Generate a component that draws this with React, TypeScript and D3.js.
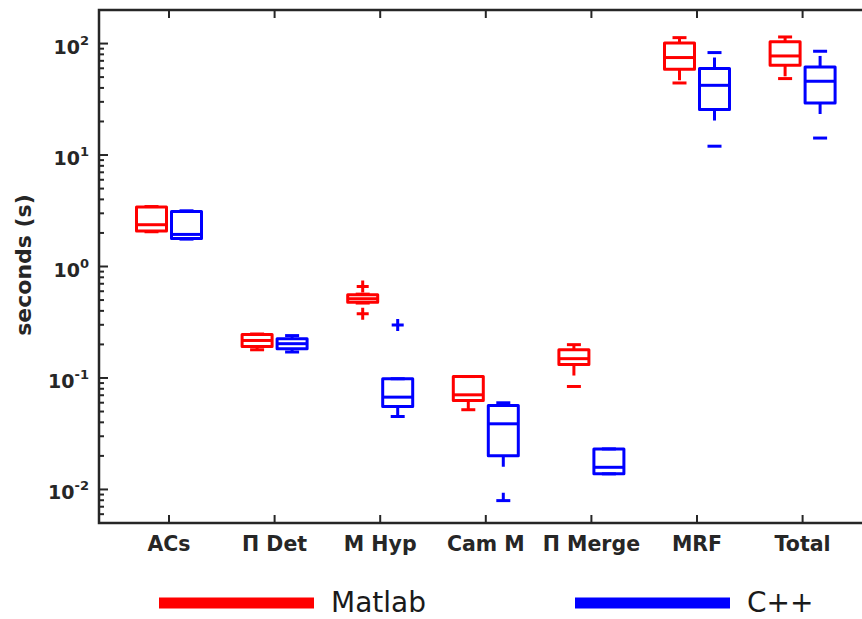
import * as React from "react";
import * as d3 from "d3";

const categories = ["ACs", "\u03A0 Det", "M Hyp", "Cam M", "\u03A0 Merge", "MRF", "Total"];

// Matlab timings (seconds)
const matlabLo = [2.05, 0.179, 0.47, 0.0519, 0.0839, 44.3, 48.5];
const matlabQ1 = [2.08, 0.192, 0.479, 0.0628, 0.132, 58.8, 63.8];
const matlabMed = [2.37, 0.217, 0.514, 0.0706, 0.149, 74.9, 77.4];
const matlabQ3 = [3.41, 0.245, 0.558, 0.103, 0.179, 101, 104];
const matlabHi = [3.45, 0.248, 0.565, 0.103, 0.199, 113, 114.6];
const matlabOutliers = [[], [], [0.663, 0.377], [], [], [], []];

// C++ timings (seconds)
const cppLo = [1.76, 0.171, 0.0451, 0.00794, 0.0138, 12.0, 14.2];
const cppQ1 = [1.78, 0.183, 0.0555, 0.0201, 0.0138, 25.6, 29.3];
const cppMed = [1.94, 0.203, 0.0673, 0.0388, 0.0158, 42.2, 45.9];
const cppQ3 = [3.12, 0.225, 0.0984, 0.0566, 0.0231, 59.7, 61.7];
const cppHi = [3.16, 0.240, 0.0984, 0.0599, 0.0231, 83.0, 85.3];
const cppOutliers = [[], [], [0.298], [], [], [], []];

const decades = [-2, -1, 0, 1, 2];
const seriesNames = ["Matlab", "C++"];

class App extends React.Component {
    componentDidMount() {
        this.drawChart();
    }

    drawChart() {
        const width = 862, height = 619;
        const axisColor = "#262626";
        const font = "DejaVu Sans, sans-serif";

        const xScale = d3.scaleLinear().domain([0, 6]).range([169, 802.6]);
        const yScale = d3.scaleLog().domain([0.005, 200]).range([523, 10]);
        const left = 99, top = 10, bottom = 523, right = 875;

        const series = [
            { name: seriesNames[0], color: "#ff0000", offset: -17.5, lo: matlabLo, q1: matlabQ1, med: matlabMed, q3: matlabQ3, hi: matlabHi, out: matlabOutliers },
            { name: seriesNames[1], color: "#0000ff", offset: 17.5, lo: cppLo, q1: cppQ1, med: cppMed, q3: cppQ3, hi: cppHi, out: cppOutliers },
        ];

        const svg = d3.select(this._rootNode)
            .append("svg")
            .attr("width", width)
            .attr("height", height)
            .style("position", "absolute")
            .style("left", 0)
            .style("top", 0)
            .style("font-family", font);

        svg.append("rect").attr("width", width).attr("height", height).attr("fill", "#fff");

        const boxW = 30, capW = 14, lw = 3;

        series.forEach(s => {
            const g = svg.append("g")
                .attr("stroke", s.color)
                .attr("fill", "none")
                .attr("stroke-width", lw)
                .attr("stroke-linejoin", "round");
            categories.forEach((c, i) => {
                const cx = xScale(i) + s.offset;
                // whiskers: dashed, drawn outward from the box edges
                g.append("line")
                    .attr("x1", cx).attr("x2", cx)
                    .attr("y1", yScale(s.q3[i])).attr("y2", yScale(s.hi[i]))
                    .attr("stroke-dasharray", "11,26");
                g.append("line")
                    .attr("x1", cx).attr("x2", cx)
                    .attr("y1", yScale(s.q1[i])).attr("y2", yScale(s.lo[i]))
                    .attr("stroke-dasharray", "11,26");
                // caps
                [s.hi[i], s.lo[i]].forEach(v => {
                    g.append("line")
                        .attr("x1", cx - capW / 2).attr("x2", cx + capW / 2)
                        .attr("y1", yScale(v)).attr("y2", yScale(v));
                });
                // box
                g.append("rect")
                    .attr("x", cx - boxW / 2)
                    .attr("y", yScale(s.q3[i]))
                    .attr("width", boxW)
                    .attr("height", yScale(s.q1[i]) - yScale(s.q3[i]));
                // median
                g.append("line")
                    .attr("x1", cx - boxW / 2).attr("x2", cx + boxW / 2)
                    .attr("y1", yScale(s.med[i])).attr("y2", yScale(s.med[i]));
                // outliers
                s.out[i].forEach(v => {
                    g.append("path")
                        .attr("transform", "translate(" + cx + "," + yScale(v) + ")")
                        .attr("d", "M-6,0H6M0,-6V6");
                });
            });
        });

        // axes frame (right side falls outside the picture)
        const axes = svg.append("g").attr("stroke", axisColor).attr("stroke-width", 2.5).attr("fill", "none");
        axes.append("path")
            .attr("d", "M" + right + "," + top + "H" + left + "V" + bottom + "H" + right)
            .attr("stroke-linecap", "square");

        // y ticks: majors and minors, inward
        const minors = [];
        d3.range(-3, 3).forEach(e => {
            d3.range(2, 10).forEach(m => {
                const v = m * Math.pow(10, e);
                if (v >= 0.005 && v <= 200) minors.push(v);
            });
        });
        const tickG = svg.append("g").attr("stroke", axisColor).attr("stroke-width", 2);
        minors.forEach(v => {
            tickG.append("line").attr("x1", left).attr("x2", left + 5)
                .attr("y1", yScale(v)).attr("y2", yScale(v));
        });
        decades.forEach(e => {
            const y = yScale(Math.pow(10, e));
            tickG.append("line").attr("x1", left).attr("x2", left + 9).attr("y1", y).attr("y2", y);
        });
        // x ticks on bottom and top
        categories.forEach((c, i) => {
            const x = xScale(i);
            tickG.append("line").attr("x1", x).attr("x2", x).attr("y1", bottom).attr("y2", bottom - 8);
            tickG.append("line").attr("x1", x).attr("x2", x).attr("y1", top).attr("y2", top + 8);
        });

        // y tick labels
        const yLabels = svg.append("g").attr("fill", axisColor).attr("font-weight", "bold");
        decades.forEach(e => {
            const t = yLabels.append("text")
                .attr("x", 89)
                .attr("y", yScale(Math.pow(10, e)) + 10)
                .attr("text-anchor", "end")
                .attr("font-size", 19);
            t.append("tspan").text("10");
            t.append("tspan").attr("dy", -9).attr("font-size", 13).text(String(e));
        });

        // x tick labels
        svg.append("g").attr("fill", axisColor).attr("font-weight", "bold")
            .selectAll("text")
            .data(categories)
            .enter()
            .append("text")
            .attr("x", (d, i) => xScale(i))
            .attr("y", 551)
            .attr("text-anchor", "middle")
            .attr("font-size", 20.5)
            .text(d => d);

        // y axis title
        svg.append("text")
            .attr("transform", "translate(31,265) rotate(-90)")
            .attr("text-anchor", "middle")
            .attr("fill", axisColor)
            .attr("font-weight", "bold")
            .attr("font-size", 22)
            .text("seconds (s)");

        // legend
        const legendX = [159, 575];
        series.forEach((s, i) => {
            svg.append("line")
                .attr("x1", legendX[i]).attr("x2", legendX[i] + 155)
                .attr("y1", 603).attr("y2", 603)
                .attr("stroke", s.color)
                .attr("stroke-width", 11);
            svg.append("text")
                .attr("x", legendX[i] + 172)
                .attr("y", 612)
                .attr("font-size", 28)
                .attr("fill", "#1a1a1a")
                .text(s.name);
        });
    }

    shouldComponentUpdate() {
        return false;
    }

    _setRef(node) {
        this._rootNode = node;
    }

    render() {
        return <div ref={this._setRef.bind(this)} />;
    }
}

export default App;
